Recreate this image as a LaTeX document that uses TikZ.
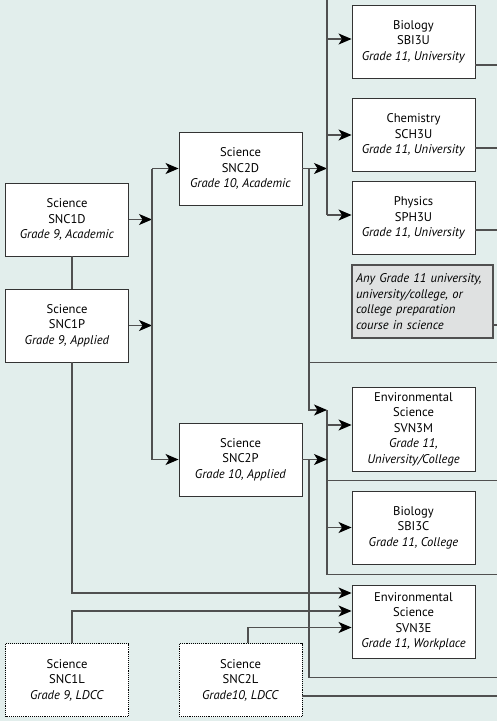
\documentclass[tikz,border=0pt]{standalone}
\usepackage{fontspec}
\setmainfont{PT Sans}
\usepackage{xcolor}
\usetikzlibrary{positioning, arrows.meta, calc}
\definecolor{bgteal}{HTML}{E2EEEC}
\definecolor{linegray}{HTML}{505050}
\definecolor{notegray}{HTML}{DFE1E1}
\begin{document}
\begin{tikzpicture}[
  x=1pt, y=-1pt,
  >={Stealth[length=13pt, width=11pt, inset=3.5pt, color=black]},
  every node/.style={font=\fontsize{12.6}{15.5}\selectfont},
  course/.style={draw=black!80, fill=white, line width=0.9pt, align=center,
    minimum width=123pt, minimum height=73pt, inner sep=2pt},
  ldcc/.style={course, draw=black, densely dotted},
  note/.style={draw=linegray, fill=notegray, line width=1.1pt, align=left,
    text width=133pt, minimum height=73pt, inner sep=4pt},
  link/.style={draw=linegray, line width=1.2pt}
]
% Background
\fill[bgteal] (0,0) rectangle (497,721);
\useasboundingbox (0,0) rectangle (497,721);

% Junctions
\coordinate (c9) at (72,0);
\coordinate (jA) at (152,0);
\coordinate (jC) at (309,0);
\coordinate (jB) at (327,0);
\coordinate (edge) at (497,0);
\coordinate (top) at (0,0);

% Grade 9
\node[course] (snc1d) at (67,219.5) {Science\\SNC1D\\\textit{Grade 9, Academic}};
\node[course] (snc1p) at (67,325.5) {Science\\SNC1P\\\textit{Grade 9, Applied}};
\node[ldcc] (snc1l) at (67,680) {Science\\SNC1L\\\textit{Grade 9, LDCC}};

% Grade 10
\node[course] (snc2d) at (240.5,168.5) {Science\\SNC2D\\\textit{Grade 10, Academic}};
\node[course] (snc2p) at (240.5,459.5) {Science\\SNC2P\\\textit{Grade 10, Applied}};
\node[ldcc] (snc2l) at (240.5,680) {Science\\SNC2L\\\textit{Grade10, LDCC}};

% Grade 11
\node[course] (sbi3u) at (413.5,41.5) {Biology\\SBI3U\\\textit{Grade 11, University}};
\node[course] (sch3u) at (413.5,135) {Chemistry\\SCH3U\\\textit{Grade 11, University}};
\node[course] (sph3u) at (413.5,218) {Physics\\SPH3U\\\textit{Grade 11, University}};
\node[note] (anyg11) at (422.5,301.5) {\itshape Any Grade 11 university,\\university/college, or\\college preparation\\course in science};
\node[course, minimum height=84pt] (svn3m) at (413.5,429) {Environmental\\Science\\SVN3M\\\textit{Grade 11,}\\\textit{University/College}};
\node[course] (sbi3c) at (413.5,527.5) {Biology\\SBI3C\\\textit{Grade 11, College}};
\node[course] (svn3e) at (413.5,621.5) {Environmental\\Science\\SVN3E\\\textit{Grade 11, Workplace}};

% Grade 9 to Grade 10
\draw[link] (snc1d.south -| c9) -- (snc1p.north -| c9);
\draw[link,->] (snc1d.east) -- (snc1d.east -| jA);
\draw[link,->] (snc1p.east) -- (snc1p.east -| jA);
\draw[link] (snc2d.west -| jA) -- (snc2p.west -| jA);
\draw[link,->] (snc2d.west -| jA) -- (snc2d.west);
\draw[link,->] (snc2p.west -| jA) -- (snc2p.west);

% Into SVN3E
\draw[link,->] (snc1p.south -| c9) |- ($(svn3e.west)+(0,-28.5)$);
\draw[link,->] (snc1l.north -| c9) |- ($(svn3e.west)+(0,-10.5)$);
\draw[link,->] ($(snc2l.north)+(7.5,0)$) |- ($(svn3e.west)+(0,6)$);

% SNC2D to university courses
\draw[link,->] (snc2d.east) -- (snc2d.east -| jB);
\draw[link] (top -| jB) -- ($(sph3u.west -| jB)+(0,-3)$);
\foreach \n/\dy in {sbi3u/-2.5, sch3u/0, sph3u/-3}
  \draw[link,->] ($(\n.west -| jB)+(0,\dy)$) -- ($(\n.west)+(0,\dy)$);

% SNC2D down to university/college
\draw[link,->] (snc2d.east -| jC) |- ($(svn3m.west -| jB)+(0,-19)$);
\draw[link] ($(svn3m.west -| jB)+(0,-19)$) |- ($(sbi3c.south -| edge)+(0,10)$);
\draw[link,->] ($(svn3m.west -| jB)+(0,-4)$) -- ($(svn3m.west)+(0,-4)$);
\draw[link,->] (sbi3c.west -| jB) -- (sbi3c.west);
\draw[link,->] (snc2p.east) -- (snc2p.east -| jB);
\draw[link] (snc2p.east -| jC) |- ($(svn3e.south -| edge)+(0,19)$);

% Lines leaving to the right
\foreach \n/\dy in {sbi3u/23.5, sch3u/13, sph3u/12, anyg11/23.5}
  \draw[link] ($(\n.east)+(0,\dy)$) coordinate (x) -- (x -| edge);
\draw[link] ($(anyg11.south -| jC)+(0,24)$) coordinate (x) -- (x -| edge);
\draw[link] ($(svn3m.south -| jB)+(0,9)$) coordinate (x) -- (x -| edge);
\draw[link] ($(snc2l.east)+(0,16)$) coordinate (x) -- (x -| edge);

\end{tikzpicture}
\end{document}
